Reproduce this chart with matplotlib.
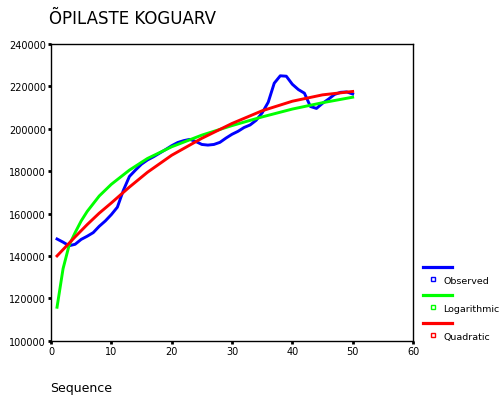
import numpy as np
import matplotlib
matplotlib.use("Agg")
import matplotlib.pyplot as plt
from matplotlib.lines import Line2D

# observed series, sequence 1..50
sequence = np.arange(1, 51)
observed = [148000, 146500, 144800, 145500, 147800, 149300, 151000, 154000, 156500, 159500,
            163000, 171000, 177500, 180500, 183300, 185300, 186800, 188500, 190200, 192000,
            193500, 194400, 195000, 194000, 192600, 192300, 192600, 193600, 195600, 197400,
            198800, 200600, 201800, 204000, 207500, 212500, 221500, 225000, 224800, 221000,
            218500, 216800, 210500, 209600, 212000, 214000, 216200, 217200, 217400, 216400]

# fitted curves
log_x = [1, 2, 3, 4, 5, 6, 8, 10, 13, 16, 20, 25, 30, 35, 40, 45, 50]
log_y = [115800, 134000, 145000, 151000, 156500, 161000, 168300, 173800, 180500, 186000,
         191500, 197000, 201500, 205600, 209300, 212300, 214900]
quad_x = [1, 2, 4, 6, 8, 10, 13, 16, 20, 25, 30, 35, 40, 45, 50]
quad_y = [140000, 143000, 149000, 154800, 160200, 165000, 172500, 179500, 187500, 195500,
          202500, 208500, 213000, 216000, 217600]

names = ["Observed", "Logarithmic", "Quadratic"]
colors = ["#0000ff", "#00ff00", "#ff0000"]

fig = plt.figure(figsize=(5.01, 4.02), dpi=100)
ax = fig.add_axes([51 / 501, 1 - 341.7 / 402, 362 / 501, 296.7 / 402])

ax.plot(sequence, observed, color=colors[0], lw=2.1)
ax.plot(log_x, log_y, color=colors[1], lw=2.1)
ax.plot(quad_x, quad_y, color=colors[2], lw=2.1)

ax.set_xlim(0, 60)
ax.set_ylim(100000, 240000)
ax.set_xticks(range(0, 61, 10))
ax.set_yticks(range(100000, 240001, 20000))
ax.tick_params(direction="out", length=2, width=2, labelsize=7, pad=1.5, colors="black")
for s in ax.spines.values():
    s.set_linewidth(1)
    s.set_color("black")

fig.text(49 / 501, 1 - 19 / 402, "ÕPILASTE KOGUARV", fontsize=12, va="center", ha="left")
fig.text(50 / 501, 1 - 389 / 402, "Sequence", fontsize=9, va="center", ha="left")

# legend drawn by hand to match the layout
line_y = [268.3, 296, 324]
for i, (name, c) in enumerate(zip(names, colors)):
    y = 1 - line_y[i] / 402
    fig.add_artist(Line2D([423 / 501, 452 / 501], [y, y], color=c, lw=2.3,
                          transform=fig.transFigure))
    ym = 1 - (line_y[i] + 11.5) / 402
    fig.add_artist(Line2D([432.5 / 501], [ym], marker="s", markersize=3.3, markerfacecolor="none",
                          markeredgecolor=c, markeredgewidth=1, transform=fig.transFigure))
    fig.text(443 / 501, 1 - (line_y[i] + 13.5) / 402, name, fontsize=6.8, va="center", ha="left")

fig.savefig("out.png", dpi=100)
